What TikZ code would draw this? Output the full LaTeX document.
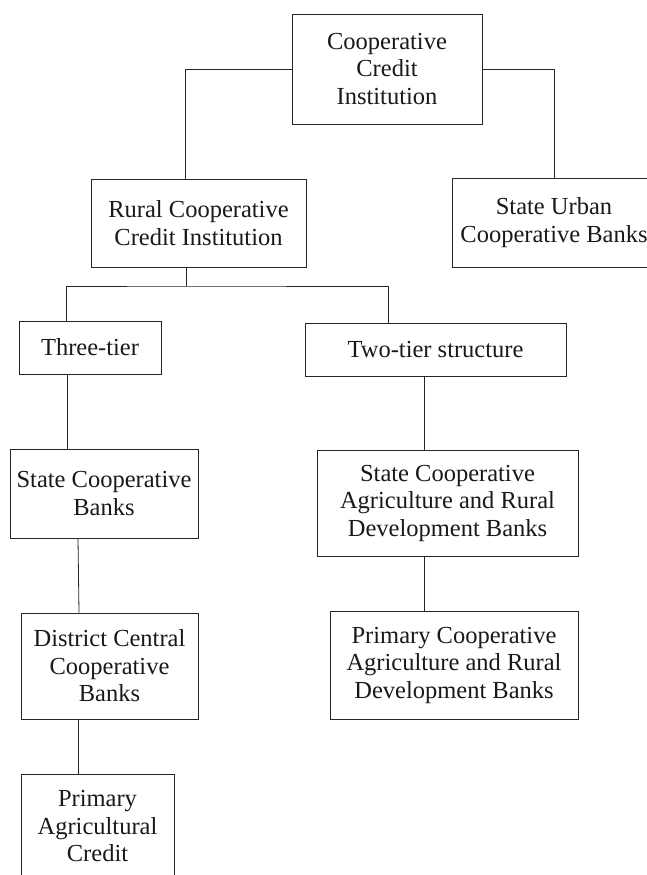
\documentclass[tikz,border=0pt]{standalone}
\usepackage{fontspec}
\setmainfont{Liberation Serif}
\tikzset{
  box/.style={draw=black!85, line width=0.8pt, align=center, inner sep=0pt,
    text=black!90, font=\fontsize{24.5}{27.5}\selectfont},
  link/.style={draw=black!85, line width=0.8pt}
}
\begin{document}
\begin{tikzpicture}[x=1pt,y=-1pt]
\useasboundingbox (0,0) rectangle (647,875);
\clip (0,0) rectangle (647,875);
% top level
\node[box,minimum width=190pt,minimum height=110pt] (coop) at (387,69) {Cooperative\\Credit\\Institution};
\node[box,minimum width=215pt,minimum height=88pt] (rural) at (198.5,223) {Rural Cooperative\\Credit Institution};
\node[box,minimum width=204pt,minimum height=89pt] (urban) at (554,222.5) {State Urban\\Cooperative Banks};
% tiers
\node[box,minimum width=142pt,minimum height=53pt] (three) at (90,347.5) {Three-tier};
\node[box,minimum width=261pt,minimum height=53pt] (two) at (435.5,349.5) {Two-tier structure};
% three-tier side
\node[box,minimum width=188pt,minimum height=89pt] (scb) at (104,493.5) {State Cooperative\\Banks};
\node[box,minimum width=177pt,minimum height=106pt] (dccb) at (109.5,666) {District Central\\Cooperative\\Banks};
\node[box,minimum width=153pt,minimum height=104pt] (pac) at (97.5,826) {Primary\\Agricultural\\Credit};
% two-tier side
\node[box,minimum width=261pt,minimum height=106pt] (scardb) at (447.5,503) {State Cooperative\\Agriculture and Rural\\Development Banks};
\node[box,minimum width=248pt,minimum height=108pt] (pcardb) at (454,665) {Primary Cooperative\\Agriculture and Rural\\Development Banks};
% connectors
\coordinate (split) at (186,286);
\draw[link] (coop.west) -| ([xshift=-13.5pt]rural.north);
\draw[link] (coop.east) -| (urban.north);
\draw[link] (rural.south -| split) -- (split);
\draw[link] ([xshift=-24pt]three.north) |- (split) -| ([xshift=-47.5pt]two.north);
\draw[link] ([xshift=-23pt]three.south) -- ([xshift=-23pt]three.south |- scb.north);
\draw[link] ([xshift=-26pt]scb.south) -- ([xshift=-30.5pt]dccb.north);
\draw[link] ([xshift=-31.5pt]dccb.south) -- ([xshift=-31.5pt]dccb.south |- pac.north);
\draw[link] ([xshift=-11.5pt]two.south) -- ([xshift=-11.5pt]two.south |- scardb.north);
\draw[link] ([xshift=-23.5pt]scardb.south) -- ([xshift=-23.5pt]scardb.south |- pcardb.north);
\end{tikzpicture}
\end{document}
